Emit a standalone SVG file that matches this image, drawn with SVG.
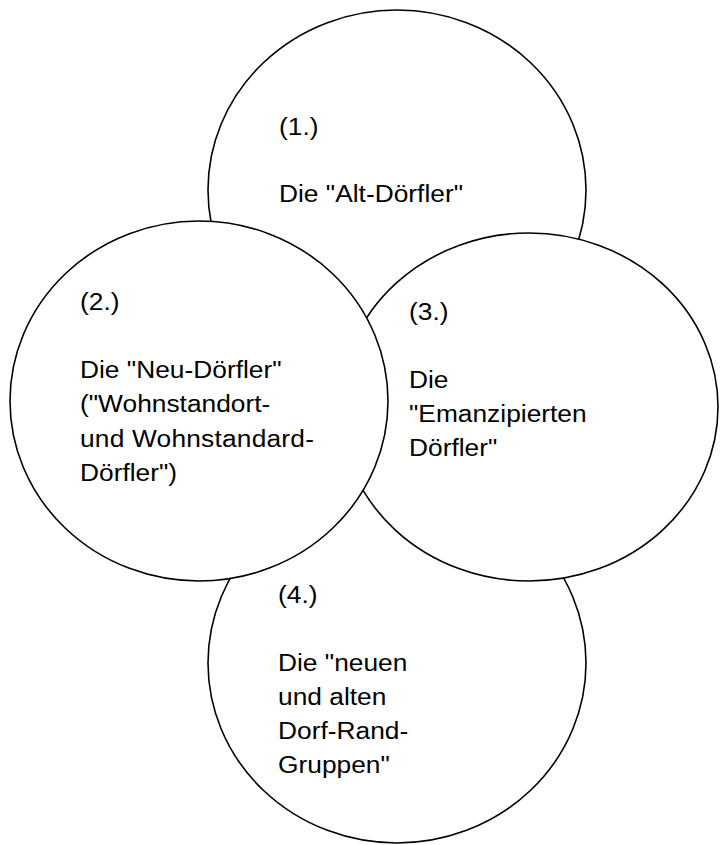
<svg xmlns="http://www.w3.org/2000/svg" width="720" height="845" viewBox="0 0 720 845">
<style>
.c{fill:#fff;stroke:#000;stroke-width:1.6}
.t{font-family:"Liberation Sans",Arial,sans-serif;font-size:23.3px;fill:#000}
</style>
<rect width="720" height="845" fill="#fff"/>
<g id="connectors"></g>
<g id="n1">
<ellipse class="c" cx="397" cy="190" rx="189" ry="180"/>
<text class="t" transform="translate(279,0) scale(1.13,1)"><tspan x="0" y="135">(1.)</tspan><tspan x="0" y="202">Die "Alt-Dörfler"</tspan></text>
</g>
<g id="n4">
<ellipse class="c" cx="397" cy="663" rx="189" ry="180"/>
<text class="t" transform="translate(278,0) scale(1.13,1)"><tspan x="0" y="603">(4.)</tspan><tspan x="0" y="671">Die "neuen</tspan><tspan x="0" y="705">und alten</tspan><tspan x="0" y="739">Dorf-Rand-</tspan><tspan x="0" y="773">Gruppen"</tspan></text>
</g>
<g id="n3">
<ellipse class="c" cx="529" cy="407" rx="189" ry="174"/>
<text class="t" transform="translate(409,0) scale(1.13,1)"><tspan x="0" y="320">(3.)</tspan><tspan x="0" y="388">Die</tspan><tspan x="0" y="422">"Emanzipierten</tspan><tspan x="0" y="456">Dörfler"</tspan></text>
</g>
<g id="n2">
<ellipse class="c" cx="199" cy="401" rx="189" ry="180"/>
<text class="t" transform="translate(80,0) scale(1.13,1)"><tspan x="0" y="310">(2.)</tspan><tspan x="0" y="378">Die "Neu-Dörfler"</tspan><tspan x="0" y="412.3">("Wohnstandort-</tspan></text>
<text class="t" transform="translate(80,0) scale(1.13,1)" x="0" y="446.6" textLength="207" lengthAdjust="spacing">und Wohnstandard-</text>
<text class="t" transform="translate(80,0) scale(1.13,1)" x="0" y="481">Dörfler")</text>
</g>
</svg>
